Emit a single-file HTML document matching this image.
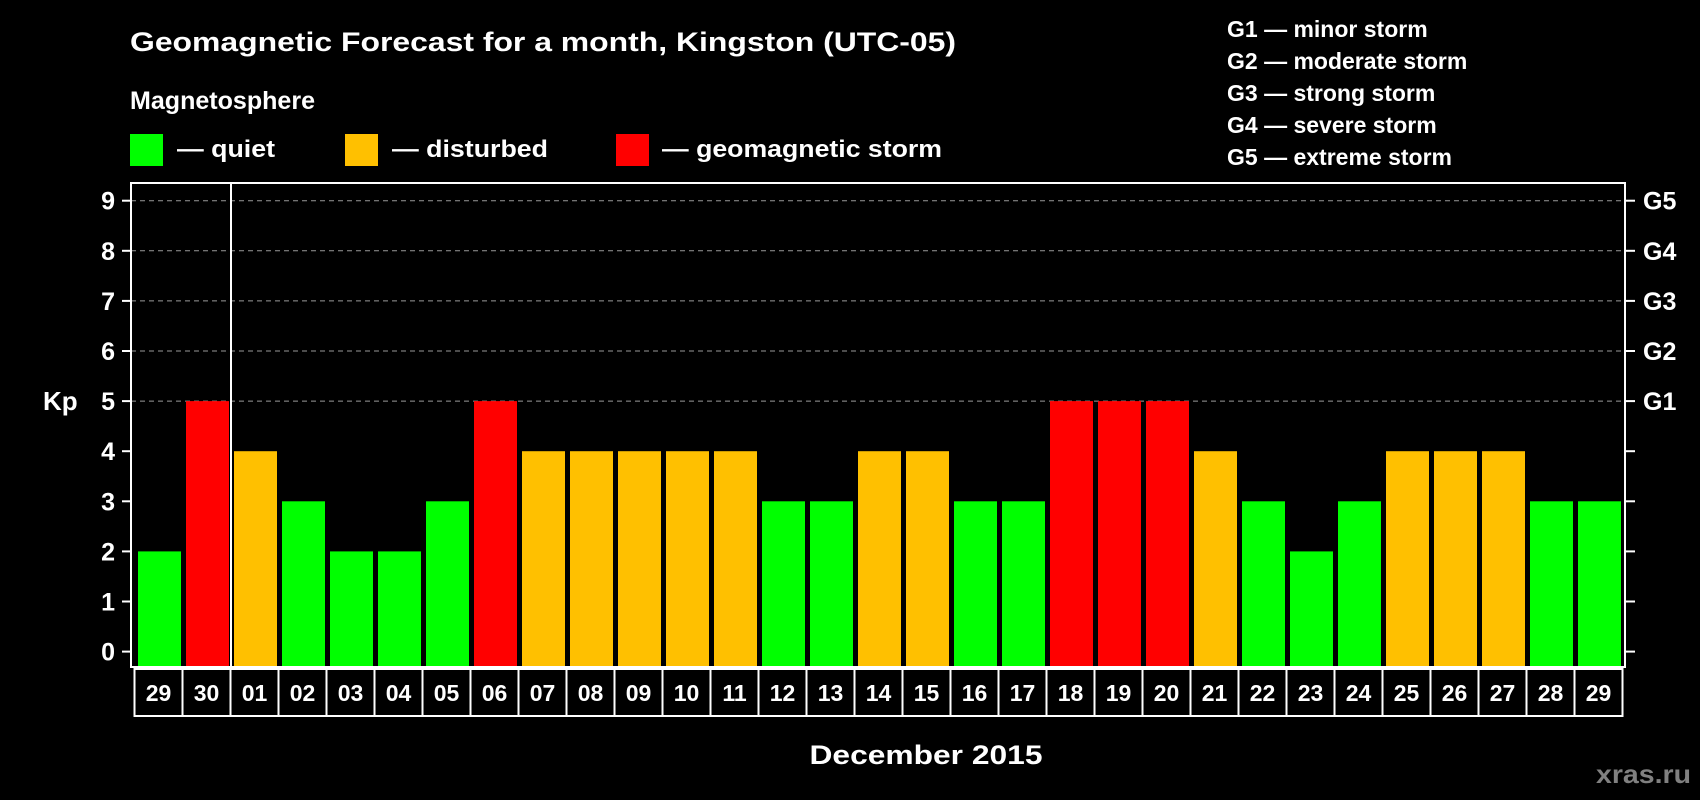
<!DOCTYPE html>
<html><head><meta charset="utf-8"><style>
html,body{margin:0;padding:0;background:#000;}
svg{display:block;font-family:"Liberation Sans",Arial,sans-serif;font-weight:bold;}
</style></head><body>
<svg id="chart" width="1700" height="800" viewBox="0 0 1700 800">
<rect width="1700" height="800" fill="#000"/>
<text x="130" y="51" fill="#fff" font-size="27" textLength="826" lengthAdjust="spacingAndGlyphs">Geomagnetic Forecast for a month, Kingston (UTC-05)</text>
<text x="130" y="109" fill="#fff" font-size="25" textLength="185" lengthAdjust="spacingAndGlyphs">Magnetosphere</text>
<rect x="130" y="134" width="33" height="32" fill="#00ff00"/>
<text x="177" y="157" fill="#fff" font-size="24" textLength="98" lengthAdjust="spacingAndGlyphs">— quiet</text>
<rect x="345" y="134" width="33" height="32" fill="#ffc000"/>
<text x="392" y="157" fill="#fff" font-size="24" textLength="156" lengthAdjust="spacingAndGlyphs">— disturbed</text>
<rect x="616" y="134" width="33" height="32" fill="#ff0000"/>
<text x="662" y="157" fill="#fff" font-size="24" textLength="280" lengthAdjust="spacingAndGlyphs">— geomagnetic storm</text>
<g fill="#fff" font-size="23">
<text x="1227" y="37">G1 — minor storm</text>
<text x="1227" y="69">G2 — moderate storm</text>
<text x="1227" y="101">G3 — strong storm</text>
<text x="1227" y="133">G4 — severe storm</text>
<text x="1227" y="165">G5 — extreme storm</text>
</g>
<g id="grid"></g>
<g id="bars"></g>
<g id="axes"></g>
<text x="43" y="410" fill="#fff" font-size="26">Kp</text>
<text x="926" y="764" fill="#fff" font-size="27" text-anchor="middle" textLength="233" lengthAdjust="spacingAndGlyphs">December 2015</text>
<text x="1691" y="783" fill="#808080" font-size="26" text-anchor="end" textLength="95" lengthAdjust="spacingAndGlyphs">xras.ru</text>
</svg>
<script>
const days = ["29","30","01","02","03","04","05","06","07","08","09","10","11","12","13","14","15","16","17","18","19","20","21","22","23","24","25","26","27","28","29"];
const kp = [2,5,4,3,2,2,3,5,4,4,4,4,4,3,3,4,4,3,3,5,5,5,4,3,2,3,4,4,4,3,3];
const yTicks = ["0","1","2","3","4","5","6","7","8","9"];
const gLabels = ["G1","G2","G3","G4","G5"];
const NS="http://www.w3.org/2000/svg";
const L=131,R=1625,T=183,B=667;
const step=48, bx0=138, bw=43;
function y(v){return 651.6 - v*50.1;}
function x(i){return bx0 + i*step;}
function color(v){return v>=5?"#ff0000":(v>=4?"#ffc000":"#00ff00");}
function mk(tag,attrs,parent){const e=document.createElementNS(NS,tag);for(const k in attrs)e.setAttribute(k,attrs[k]);parent.appendChild(e);return e;}
const grid=document.getElementById('grid'),bars=document.getElementById('bars'),axes=document.getElementById('axes');
for(let v=5;v<=9;v++){
  const l=mk('line',{x1:L,x2:R,y1:y(v),y2:y(v),stroke:"#999","stroke-width":1,"stroke-dasharray":"5,4"},grid);
  
  
}
kp.forEach((v,i)=>{
  const r=mk('rect',{x:x(i),y:y(v),width:bw,height:B-y(v),fill:color(v)},bars);
  
  
});
const fr=mk('rect',{x:L,y:T,width:R-L,height:B-T,fill:"none",stroke:"#fff","stroke-width":2},axes);


const sep=mk('line',{x1:231,x2:231,y1:T,y2:B,stroke:"#fff","stroke-width":2},axes);


yTicks.forEach((t,i)=>{
  const v=+t;
  const tk=mk('line',{x1:L-9,x2:L,y1:y(v),y2:y(v),stroke:"#fff","stroke-width":2},axes);
  
  
  const rt=mk('line',{x1:R,x2:R+10,y1:y(v),y2:y(v),stroke:"#fff","stroke-width":2},axes);
  
  
  const tx=mk('text',{x:115,y:y(v)+9,fill:"#fff","font-size":25,"text-anchor":"end"},axes);
  tx.textContent=t;
  
  
});
gLabels.forEach((g,i)=>{
  const tx=mk('text',{x:1643,y:y(5+i)+9,fill:"#fff","font-size":25},axes);
  tx.textContent=g;
  
  
});
days.forEach((d,i)=>{
  const bx=134.5+i*step;
  const r=mk('rect',{x:bx,y:669,width:step,height:47,fill:"none",stroke:"#fff","stroke-width":2},axes);
  
  
  const tx=mk('text',{x:bx+step/2,y:701,fill:"#fff","font-size":23,"text-anchor":"middle"},axes);
  tx.textContent=d;
  
  
});
</script>
</body></html>
